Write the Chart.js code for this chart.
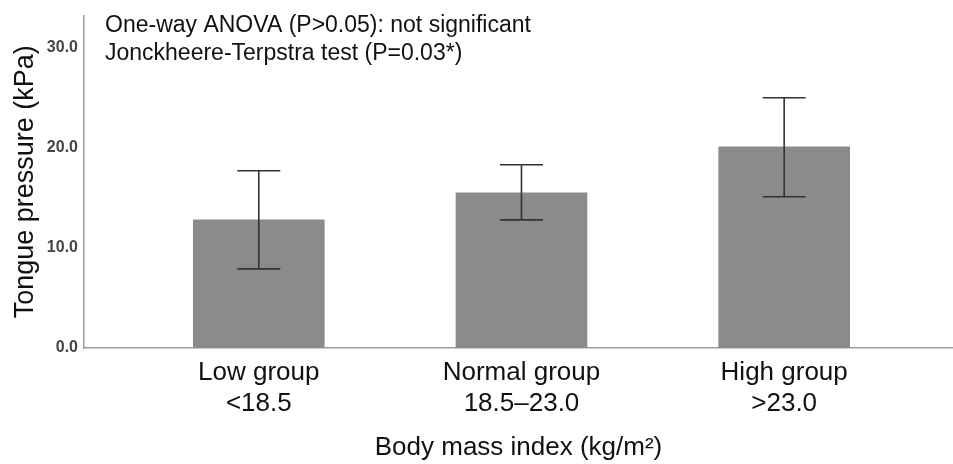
<!DOCTYPE html>
<html>
<head>
<meta charset="utf-8">
<script src="https://cdn.jsdelivr.net/npm/chart.js@4"></script>
<style>
	html, body { margin: 0; padding: 0; background: #fff; }
	#wrap { width: 953px; height: 464px; }
</style>
</head>
<body>
<div id="wrap"><canvas id="BarChart" width="953" height="464"></canvas></div>
<script>
var GroupLabels = [['Low group', '<18.5'], ['Normal group', '18.5\u201323.0'], ['High group', '>23.0']];
var MeanScores = [12.8, 15.5, 20.1];
var ErrLower = [7.9, 12.8, 15.1];
var ErrUpper = [17.7, 18.3, 25.0];
var YTicks = [0, 10, 20, 30];
var NoteText = ['One-way ANOVA (P>0.05): not significant', 'Jonckheere-Terpstra test (P=0.03*)'];

var FontName = '"Liberation Sans", Arial, Helvetica, sans-serif';

// error bars + the test note
var errBarPlugin = {
	id: 'errBars',
	afterDatasetsDraw: function(chart){
		var ctx = chart.ctx;
		var xs = chart.scales.x, ys = chart.scales.y;
		ctx.save();
		ctx.strokeStyle = '#333';
		ctx.lineWidth = 1.6;
		for(let i=0; i<MeanScores.length; i++){
			var x = xs.getPixelForValue(i);
			var yT = ys.getPixelForValue(ErrUpper[i]);
			var yB = ys.getPixelForValue(ErrLower[i]);
			ctx.beginPath();
			ctx.moveTo(x, yT); ctx.lineTo(x, yB);
			ctx.moveTo(x-21.5, yT); ctx.lineTo(x+21.5, yT);
			ctx.moveTo(x-21.5, yB); ctx.lineTo(x+21.5, yB);
			ctx.stroke();
		}
		ctx.fillStyle = '#111';
		ctx.font = '23px ' + FontName;
		ctx.textAlign = 'left';
		ctx.textBaseline = 'alphabetic';
		ctx.fillText(NoteText[0], 105, 32);
		ctx.fillText(NoteText[1], 105, 60);
		ctx.restore();
	}
};

new Chart(document.getElementById('BarChart'), {
	type: 'bar',
	data: {
		datasets: [{
			data: MeanScores.map((v, i) => ({x: i, y: v})),
			backgroundColor: '#8b8b8b',
			borderWidth: 0,
			barThickness: 131
		}]
	},
	plugins: [errBarPlugin],
	options: {
		responsive: false,
		animation: false,
		layout: { padding: { top: 10, right: 0, left: 0, bottom: 0 } },
		plugins: { legend: { display: false }, tooltip: { enabled: false } },
		scales: {
			x: {
				type: 'linear',
				offset: false,
				min: -0.6654,
				max: 2.6427,
				grid: { display: false, drawTicks: false, offset: false },
				border: { display: true, color: '#9a9a9a', width: 1.5 },
				afterBuildTicks: function(scale){ scale.ticks = GroupLabels.map((l, i) => ({value: i})); },
				afterFit: function(scale){ scale.height = 116; },
				ticks: {
					padding: 9,
					color: '#111',
					maxRotation: 0,
					autoSkip: false,
					font: { family: FontName, size: 26, lineHeight: 1.2 },
					callback: function(value){ return GroupLabels[value]; }
				},
				title: {
					display: true,
					text: 'Body mass index (kg/m\u00b2)',
					color: '#111',
					font: { family: FontName, size: 26 },
					padding: { top: 0, bottom: 1 }
				}
			},
			y: {
				min: 0,
				max: 33.2,
				grid: { display: false, drawTicks: false },
				border: { display: true, color: '#9a9a9a', width: 1.5 },
				afterBuildTicks: function(scale){ scale.ticks = YTicks.map(v => ({value: v})); },
				afterFit: function(scale){ scale.width = 84; },
				ticks: {
					padding: 6,
					color: '#444',
					font: { family: FontName, size: 16, weight: 'bold' },
					callback: function(value){ return value.toFixed(1); }
				},
				title: {
					display: true,
					text: 'Tongue pressure (kPa)',
					color: '#111',
					font: { family: FontName, size: 27 },
					padding: { top: 9, bottom: 0 }
				}
			}
		}
	}
});
</script>
</body>
</html>
